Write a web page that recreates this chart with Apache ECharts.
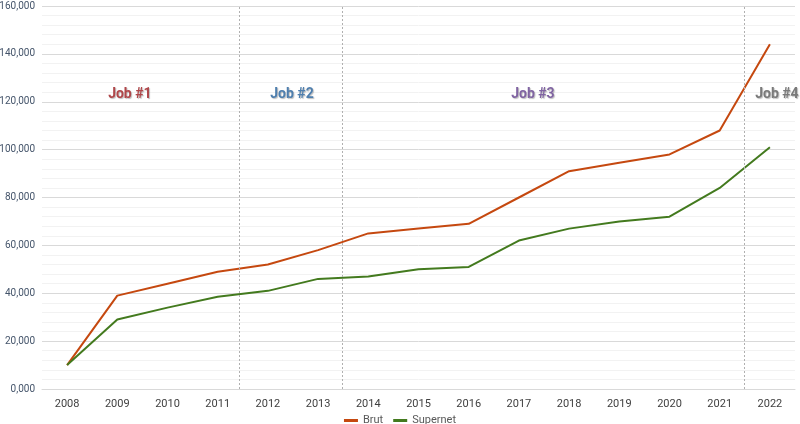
<!DOCTYPE html>
<html>
<head>
<meta charset="utf-8">
<script src="https://cdn.jsdelivr.net/npm/echarts@6/dist/echarts.min.js"></script>
<style>
html,body{margin:0;padding:0;background:#fff;}
#c{width:800px;height:424px;}
</style>
</head>
<body>
<div id="c"></div>
<script>
const years = ['2008','2009','2010','2011','2012','2013','2014','2015','2016','2017','2018','2019','2020','2021','2022'];
const brut = [10000,39000,44000,49000,52000,58000,65000,67000,69000,80000,91000,94500,98000,108000,144000];
const supernet = [10000,29000,34000,38500,41000,46000,47000,50000,51000,62000,67000,70000,72000,84000,101000];
const jobBoundaries = [2011.42, 2013.48, 2021.48];
const jobLabels = ['Job #1','Job #2','Job #3','Job #4'];
const jobLabelX = [2009.25, 2012.48, 2017.28, 2022.14];
const jobLabelY = [123000, 123000, 123000, 123000];
const jobColors = ['#B0474A','#4F7FAE','#8064A2','#7A7A7A'];

const chart = echarts.init(document.getElementById('c'));
const font = 'Roboto, "Liberation Sans", sans-serif';

chart.setOption({
  animation: false,
  backgroundColor: '#fff',
  grid: {left: 42, right: 5, top: 6, bottom: 35, containLabel: false, outerBoundsMode: 'none'},
  legend: {
    top: 410,
    left: 'center',
    itemWidth: 14,
    itemHeight: 3,
    itemGap: 10,
    icon: 'rect',
    textStyle: {color: '#595959', fontSize: 11, fontFamily: font},
    data: ['Brut','Supernet']
  },
  xAxis: [{
    type: 'category',
    data: years,
    boundaryGap: true,
    axisLine: {show: true, lineStyle: {color: '#d9d9d9'}},
    axisTick: {show: false},
    axisLabel: {color: '#404040', fontSize: 11, margin: 10, fontFamily: font}
  }, {
    type: 'value',
    min: 2007.5,
    max: 2022.5,
    show: false
  }],
  yAxis: {
    type: 'value',
    min: 0,
    max: 160000,
    interval: 20000,
    axisLine: {show: false},
    axisTick: {show: false},
    axisLabel: {
      color: '#44546A', fontSize: 10, margin: 7, fontFamily: font,
      formatter: v => v === 0 ? '0,000' : v.toLocaleString('en-US')
    },
    splitLine: {lineStyle: {color: '#d9d9d9', width: 1}},
    minorTick: {show: false, splitNumber: 5},
    minorSplitLine: {show: true, lineStyle: {color: '#f2f2f2', width: 1}}
  },
  series: [{
    name: 'Brut',
    type: 'line',
    data: brut,
    symbol: 'none',
    lineStyle: {color: '#C5480F', width: 2},
    itemStyle: {color: '#C5480F'}
  }, {
    name: 'Supernet',
    type: 'line',
    data: supernet,
    symbol: 'none',
    lineStyle: {color: '#437A1E', width: 2},
    itemStyle: {color: '#437A1E'}
  }, {
    name: 'jobs',
    type: 'line',
    xAxisIndex: 1,
    yAxisIndex: 0,
    data: [],
    silent: true,
    markLine: {
      silent: true,
      symbol: 'none',
      label: {show: false},
      lineStyle: {color: '#b0b0b0', type: [2, 2], width: 1},
      data: jobBoundaries.map(x => ({xAxis: x}))
    },
    markPoint: {
      silent: true,
      symbol: 'circle',
      symbolSize: 1,
      itemStyle: {color: 'rgba(0,0,0,0)'},
      data: jobLabels.map((t, i) => ({
        coord: [jobLabelX[i], jobLabelY[i]],
        label: {
          show: true,
          position: 'inside',
          formatter: t,
          color: jobColors[i],
          fontSize: 14,
          fontWeight: 'bold',
          fontFamily: font,
          textShadowColor: 'rgba(0,0,0,0.25)',
          textShadowBlur: 1,
          textShadowOffsetX: 1,
          textShadowOffsetY: 1
        }
      }))
    }
  }]
});
</script>
</body>
</html>
